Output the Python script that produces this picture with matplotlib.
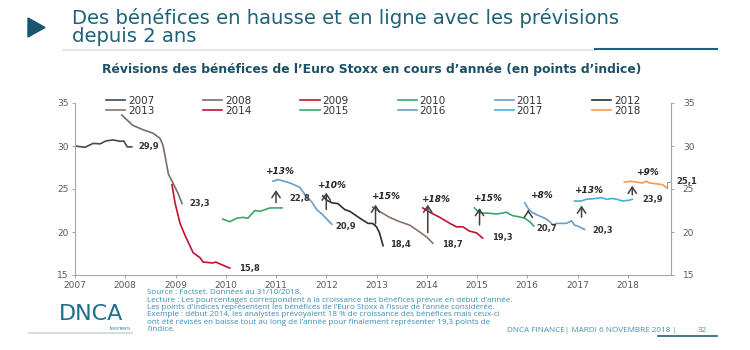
import matplotlib
matplotlib.use('Agg')
import matplotlib.pyplot as plt
from matplotlib.lines import Line2D
from matplotlib.patches import Polygon

# series: decimal year / index points
s2007_x = [2007.0, 2007.2, 2007.36, 2007.5, 2007.62, 2007.76, 2007.9, 2007.97, 2008.04, 2008.13]
s2007_y = [30.0, 29.85, 30.3, 30.25, 30.6, 30.7, 30.55, 30.58, 29.9, 29.9]
s2008_x = [2007.93, 2008.15, 2008.35, 2008.55, 2008.69, 2008.75, 2008.8, 2008.86, 2008.95, 2009.05, 2009.13]
s2008_y = [33.6, 32.4, 31.9, 31.5, 30.9, 30.1, 28.6, 26.7, 25.7, 24.5, 23.3]
s2009_x = [2008.93, 2008.99, 2009.09, 2009.19, 2009.35, 2009.49, 2009.55, 2009.74, 2009.8, 2009.92, 2010.08]
s2009_y = [25.5, 23.4, 21.0, 19.6, 17.6, 17.0, 16.5, 16.4, 16.5, 16.2, 15.8]
s2010_x = [2009.94, 2010.08, 2010.22, 2010.34, 2010.44, 2010.58, 2010.68, 2010.88, 2011.12]
s2010_y = [21.5, 21.2, 21.6, 21.7, 21.6, 22.5, 22.4, 22.8, 22.8]
s2011_x = [2010.94, 2011.04, 2011.28, 2011.47, 2011.61, 2011.71, 2011.81, 2011.93, 2012.11]
s2011_y = [25.9, 26.1, 25.7, 25.2, 24.1, 23.5, 22.6, 22.0, 20.9]
s2012_x = [2011.93, 2012.01, 2012.11, 2012.23, 2012.37, 2012.47, 2012.67, 2012.83, 2012.92, 2013.0, 2013.06, 2013.13]
s2012_y = [24.2, 23.7, 23.4, 23.3, 22.6, 22.4, 21.6, 21.0, 21.0, 20.6, 19.9, 18.4]
s2013_x = [2012.92, 2013.06, 2013.26, 2013.46, 2013.66, 2013.86, 2014.0, 2014.12]
s2013_y = [22.9, 22.4, 21.7, 21.2, 20.8, 20.0, 19.4, 18.7]
s2014_x = [2013.92, 2014.06, 2014.26, 2014.46, 2014.59, 2014.72, 2014.85, 2014.99, 2015.11]
s2014_y = [22.8, 22.3, 21.7, 21.0, 20.6, 20.6, 20.1, 19.9, 19.3]
s2015_x = [2014.95, 2015.05, 2015.19, 2015.39, 2015.51, 2015.58, 2015.71, 2015.85, 2015.95, 2016.05, 2016.13]
s2015_y = [22.8, 22.2, 22.2, 22.1, 22.2, 22.3, 21.9, 21.75, 21.6, 21.2, 20.7]
s2016_x = [2015.95, 2016.01, 2016.09, 2016.19, 2016.35, 2016.45, 2016.51, 2016.58, 2016.68, 2016.78, 2016.88, 2016.94, 2017.0, 2017.14]
s2016_y = [23.4, 22.8, 22.3, 22.0, 21.6, 21.2, 20.8, 21.0, 21.0, 21.0, 21.3, 20.8, 20.7, 20.3]
s2017_x = [2016.94, 2017.07, 2017.17, 2017.37, 2017.47, 2017.59, 2017.69, 2017.79, 2017.89, 2018.03, 2018.09]
s2017_y = [23.6, 23.6, 23.8, 23.9, 24.0, 23.8, 23.9, 23.8, 23.6, 23.7, 23.8]
s2018_x = [2017.93, 2018.07, 2018.17, 2018.29, 2018.37, 2018.43, 2018.57, 2018.69, 2018.79]
s2018_y = [25.8, 25.9, 25.8, 25.7, 25.9, 25.7, 25.6, 25.5, 25.1]

years = ['2007', '2008', '2009', '2010', '2011', '2012',
         '2013', '2014', '2015', '2016', '2017', '2018']
series_x = [s2007_x, s2008_x, s2009_x, s2010_x, s2011_x, s2012_x,
            s2013_x, s2014_x, s2015_x, s2016_x, s2017_x, s2018_x]
series_y = [s2007_y, s2008_y, s2009_y, s2010_y, s2011_y, s2012_y,
            s2013_y, s2014_y, s2015_y, s2016_y, s2017_y, s2018_y]
colors = ['#3f4b57', '#7d6b68', '#c3122f', '#3aa66b', '#6e9cc4', '#2d2d2d',
          '#8a7368', '#c3122f', '#3aa66b', '#6e9cc4', '#41b1d6', '#f5994f']

# end-of-year values
end_labels = ['29,9', '23,3', '15,8', '22,8', '20,9', '18,4', '18,7', '19,3', '20,7', '20,3', '23,9', '25,1']
end_x = [2008.27, 2009.27, 2010.27, 2011.27, 2012.18, 2013.27, 2014.3, 2015.3, 2016.19, 2017.3, 2018.3, 2018.96]
end_y = [29.9, 23.3, 15.75, 23.9, 20.6, 18.5, 18.6, 19.4, 20.35, 20.2, 23.8, 25.9]

# growth expected at start of year
growth_labels = ['+13%', '+10%', '+15%', '+18%', '+15%', '+8%', '+13%', '+9%']
arrow_x = [2011.0, 2012.0, 2012.98, 2014.02, 2015.05, 2016.02, 2017.08, 2018.09]
arrow_from = [23.1, 22.3, 20.6, 19.6, 20.5, 22.0, 21.4, 24.0]
arrow_to = [25.2, 24.9, 23.5, 23.5, 23.1, 22.9, 23.4, 25.7]
growth_x = [2011.08, 2012.11, 2013.17, 2014.18, 2015.2, 2016.29, 2017.22, 2018.4]
growth_y = [27.0, 25.35, 24.1, 23.8, 23.9, 24.3, 24.8, 26.9]

teal = '#1f6178'
foot_blue = '#3a8ab5'
axis_gray = '#a6a6a6'
tick_gray = '#595959'

fig = plt.figure(figsize=(7.5, 3.5), dpi=100)

# header
fig.patches.append(Polygon([[28/750, 1-18/350], [28/750, 1-37/350], [45/750, 1-27.5/350]],
                           closed=True, transform=fig.transFigure, color='#17566e'))
fig.text(72/750, 1-18/350, 'Des bénéfices en hausse et en ligne avec les prévisions',
         family='DejaVu Sans', fontsize=14.1, color=teal, va='center')
fig.text(72/750, 1-36/350, 'depuis 2 ans',
         family='DejaVu Sans', fontsize=14.1, color=teal, va='center')
fig.add_artist(Line2D([63/750, 595/750], [1-50/350, 1-50/350], transform=fig.transFigure,
                      color='#e3e6ea', lw=1.5))
fig.add_artist(Line2D([595/750, 717/750], [1-49/350, 1-49/350], transform=fig.transFigure,
                      color='#1f6178', lw=1.5))
fig.text(372/750, 1-70/350,
         'Révisions des bénéfices de l\u2019Euro Stoxx en cours d\u2019année (en points d\u2019indice)',
         family='DejaVu Sans', fontweight='bold', fontsize=8.9, color='#1a4f66', ha='center', va='center')

ax = fig.add_axes([75/750, 1-275/350, 596/750, 172/350])
handles = []
for xs, ys, c, name in zip(series_x, series_y, colors, years):
    h, = ax.plot(xs, ys, color=c, lw=1.2, label=name)
    handles.append(h)

for t, x, y in zip(end_labels, end_x, end_y):
    ax.text(x, y, t, fontsize=6, fontweight='bold', color='#333333', va='center', ha='left', clip_on=False)

for x, y0, y1 in zip(arrow_x, arrow_from, arrow_to):
    ax.annotate('', xy=(x, y1), xytext=(x, y0),
                arrowprops=dict(arrowstyle='->,head_length=0.45,head_width=0.3', color='#404040', lw=1.1))
for t, x, y in zip(growth_labels, growth_x, growth_y):
    ax.text(x, y, t, fontsize=6.5, fontweight='bold', fontstyle='italic', color='#222222',
            ha='center', va='center')

# small connector from the 2018 end to its label
ax.plot([2018.79, 2018.79, 2018.86], [25.1, 25.85, 25.85], color='#999999', lw=0.7, clip_on=False)

ax.set_xlim(2007, 2018.86)
ax.set_ylim(15, 35)
ax.set_xticks(range(2007, 2019))
ax.set_yticks([15, 20, 25, 30, 35])
ax.tick_params(axis='both', labelsize=6.5, colors=tick_gray, length=2.5, width=0.7, pad=2)
ax.tick_params(axis='both', color=axis_gray)
for side in ['left', 'bottom', 'right']:
    ax.spines[side].set_color(axis_gray)
    ax.spines[side].set_linewidth(0.8)
ax.spines['top'].set_visible(False)

ax2 = ax.twinx()
ax2.set_ylim(15, 35)
ax2.set_yticks([15, 20, 25, 30, 35])
ax2.tick_params(axis='y', labelsize=6.5, labelcolor=tick_gray, color=axis_gray, length=2.5, width=0.7, pad=6)
for side in ['left', 'bottom', 'top']:
    ax2.spines[side].set_visible(False)
ax2.spines['right'].set_color(axis_gray)
ax2.spines['right'].set_linewidth(0.8)

# legend: 2 rows x 6 columns, filled column by column
order = []
for i in range(6):
    order += [handles[i], handles[i + 6]]
fig.legend(handles=order, labels=[h.get_label() for h in order], ncol=6,
           loc='upper left', bbox_to_anchor=(106/750, 1-96/350), frameon=False,
           fontsize=7.5, handlelength=1.85, handletextpad=0.25, columnspacing=4.7,
           labelspacing=0.0, borderpad=0, borderaxespad=0, labelcolor='#333333')

# footer
foot_lines = [
    'Source : Factset. Données au 31/10/2018.',
    'Lecture : Les pourcentages correspondent à la croissance des bénéfices prévue en début d\u2019année.',
    'Les points d\u2019indices représentent les bénéfices de l\u2019Euro Stoxx à l\u2019issue de l\u2019année considérée.',
    'Exemple : début 2014, les analystes prévoyaient 18 % de croissance des bénéfices mais ceux-ci',
    'ont été révisés en baisse tout au long de l\u2019année pour finalement représenter 19,3 points de',
    'l\u2019indice.',
]
for i, line in enumerate(foot_lines):
    fig.text(147/750, 1-(293 + i*7.3)/350, line, family='Open Sans', fontsize=5.8,
             color=foot_blue, va='center')

fig.text(59/750, 1-314/350, 'DNCA', family='DejaVu Sans', fontsize=16, color='#1f6e8a',
         va='center', ha='left')
fig.text(131/750, 1-329.5/350, 'INVESTMENTS', family='DejaVu Sans', fontsize=2.2, color='#1f6e8a',
         va='center', ha='right')
fig.add_artist(Line2D([29/750, 132/750], [1-333/350, 1-333/350], transform=fig.transFigure,
                      color='#d0d6da', lw=1.2))
fig.text(507/750, 1-330/350, 'DNCA FINANCE| MARDI 6 NOVEMBRE 2018 |', family='Open Sans',
         fontsize=5.9, color='#4a8fb0', va='center')
fig.text(698/750, 1-330/350, '32', family='Open Sans', fontsize=5.9, color='#4a8fb0', va='center')
fig.add_artist(Line2D([658/750, 717/750], [1-336/350, 1-336/350], transform=fig.transFigure,
                      color='#1f6178', lw=1.2))

fig.savefig('out.png', dpi=100)
